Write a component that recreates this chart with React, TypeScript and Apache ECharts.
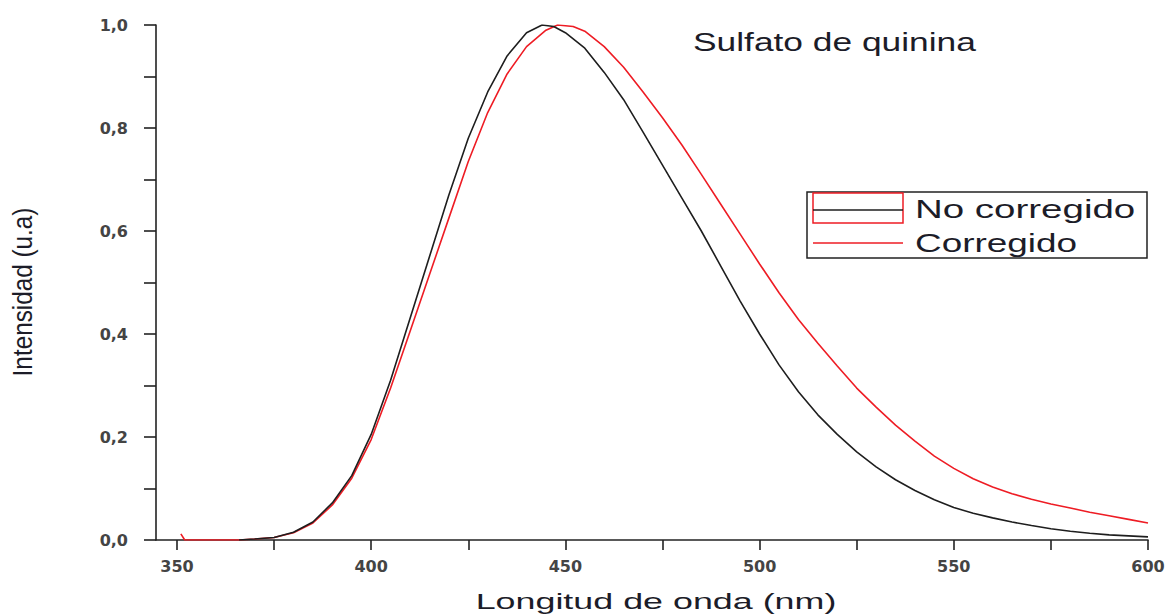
import React, { useEffect, useRef } from "react";
import * as echarts from "echarts";

// Wavelength (nm) and normalized intensity for each curve
const wlNoCorregido = [366, 370, 375, 380, 385, 390, 395, 400, 405, 410, 415, 420, 425, 430, 435, 440, 444, 447, 450, 455, 460, 465, 470, 475, 480, 485, 490, 495, 500, 505, 510, 515, 520, 525, 530, 535, 540, 545, 550, 555, 560, 565, 570, 575, 580, 585, 590, 595, 600];
const noCorregido = [0, 0.002, 0.005, 0.015, 0.035, 0.072, 0.125, 0.205, 0.31, 0.43, 0.55, 0.67, 0.78, 0.87, 0.94, 0.985, 1.0, 0.997, 0.985, 0.955, 0.908, 0.855, 0.792, 0.728, 0.664, 0.6, 0.532, 0.464, 0.4, 0.34, 0.288, 0.243, 0.205, 0.171, 0.142, 0.117, 0.096, 0.078, 0.063, 0.052, 0.043, 0.035, 0.028, 0.022, 0.017, 0.013, 0.01, 0.008, 0.006];

const wlCorregido = [351, 352, 360, 366, 370, 375, 380, 385, 390, 395, 400, 405, 410, 415, 420, 425, 430, 435, 440, 445, 448, 452, 455, 460, 465, 470, 475, 480, 485, 490, 495, 500, 505, 510, 515, 520, 525, 530, 535, 540, 545, 550, 555, 560, 565, 570, 575, 580, 585, 590, 595, 600];
const corregido = [0.012, 0, 0, 0, 0.002, 0.005, 0.014, 0.033, 0.068, 0.12, 0.195, 0.295, 0.405, 0.515, 0.625, 0.735, 0.83, 0.905, 0.958, 0.99, 1.0, 0.997, 0.988, 0.958, 0.918, 0.87, 0.82, 0.767, 0.71, 0.652, 0.594, 0.536, 0.48, 0.428, 0.382, 0.338, 0.295, 0.258, 0.223, 0.192, 0.163, 0.139, 0.119, 0.103, 0.09, 0.079, 0.07, 0.062, 0.054, 0.047, 0.04, 0.033];

const xLabelValues = [350, 400, 450, 500, 550, 600];
const xTickValues = [350, 375, 400, 425, 450, 475, 500, 525, 550, 575, 600];

const seriesNames = ["No corregido", "Corregido"];
const titleText = "Sulfato de quinina";
const xName = "Longitud de onda (nm)";
const yName = "Intensidad (u.a)";

const BLACK = "#1e1e1e";
const RED = "#ee1c24";
const TXT = "#1c1c28";

export default function App() {
  const ref = useRef<HTMLDivElement>(null);

  useEffect(() => {
    if (!ref.current) return;
    const chart = echarts.init(ref.current, null, { renderer: "svg" });

    const labelStyle = {
      fontFamily: "DejaVu Sans",
      fontWeight: "bold" as const,
      fontSize: 16,
      color: "#444",
    };

    chart.setOption({
      animation: false,
      backgroundColor: "#fff",
      grid: { left: 156, right: 28, top: 25, bottom: 74 },
      xAxis: {
        type: "value",
        min: 344.6,
        max: 600,
        axisLine: { show: true, onZero: false, lineStyle: { color: "#222", width: 1.6 } },
        axisTick: {
          show: true,
          inside: false,
          length: 10,
          customValues: xTickValues,
          lineStyle: { color: "#222", width: 1.6 },
        },
        axisLabel: {
          ...labelStyle,
          margin: 18,
          customValues: xLabelValues,
          formatter: (v: number) => String(v),
        },
        splitLine: { show: false },
      },
      yAxis: {
        type: "value",
        min: 0,
        max: 1,
        interval: 0.2,
        axisLine: { show: true, onZero: false, lineStyle: { color: "#222", width: 1.6 } },
        axisTick: { show: true, inside: false, length: 12, lineStyle: { color: "#222", width: 1.6 } },
        minorTick: { show: true, splitNumber: 2, length: 12, lineStyle: { color: "#222", width: 1.6 } },
        axisLabel: {
          ...labelStyle,
          margin: 28,
          formatter: (v: number) => v.toFixed(1).replace(".", ","),
        },
        splitLine: { show: false },
        minorSplitLine: { show: false },
      },
      series: [
        {
          name: seriesNames[0],
          type: "line",
          symbol: "none",
          showSymbol: false,
          data: wlNoCorregido.map((w, i) => [w, noCorregido[i]]),
          lineStyle: { color: BLACK, width: 1.6 },
          itemStyle: { color: BLACK },
          z: 3,
        },
        {
          name: seriesNames[1],
          type: "line",
          symbol: "none",
          showSymbol: false,
          data: wlCorregido.map((w, i) => [w, corregido[i]]),
          lineStyle: { color: RED, width: 1.6 },
          itemStyle: { color: RED },
          z: 2,
        },
      ],
      graphic: [
        {
          type: "text",
          x: 693,
          y: 42,
          scaleX: 1.36,
          style: {
            text: titleText,
            fontFamily: "Liberation Sans",
            fontSize: 26,
            fill: TXT,
            textAlign: "left",
            textVerticalAlign: "middle",
          },
        },
        {
          type: "text",
          x: 656,
          y: 601,
          scaleX: 1.63,
          style: {
            text: xName,
            fontFamily: "Liberation Sans",
            fontSize: 22,
            fill: TXT,
            textAlign: "center",
            textVerticalAlign: "middle",
          },
        },
        {
          type: "text",
          x: 23,
          y: 292,
          rotation: Math.PI / 2,
          scaleX: 0.9,
          style: {
            text: yName,
            fontFamily: "Liberation Sans",
            fontSize: 27,
            fill: TXT,
            textAlign: "center",
            textVerticalAlign: "middle",
          },
        },
        {
          type: "rect",
          shape: { x: 807, y: 192, width: 340, height: 66 },
          style: { fill: "#fff", stroke: "#222", lineWidth: 1.5 },
          z: 10,
        },
        {
          type: "rect",
          shape: { x: 813, y: 193, width: 90, height: 30 },
          style: { fill: "none", stroke: RED, lineWidth: 1.5 },
          z: 11,
        },
        {
          type: "line",
          shape: { x1: 813, y1: 210, x2: 903, y2: 210 },
          style: { stroke: BLACK, lineWidth: 1.6 },
          z: 11,
        },
        {
          type: "line",
          shape: { x1: 813, y1: 243, x2: 903, y2: 243 },
          style: { stroke: RED, lineWidth: 1.6 },
          z: 11,
        },
        {
          type: "text",
          x: 915,
          y: 209,
          scaleX: 1.48,
          z: 11,
          style: {
            text: seriesNames[0],
            fontFamily: "Liberation Sans",
            fontSize: 26,
            fill: TXT,
            textAlign: "left",
            textVerticalAlign: "middle",
          },
        },
        {
          type: "text",
          x: 915,
          y: 243,
          scaleX: 1.42,
          z: 11,
          style: {
            text: seriesNames[1],
            fontFamily: "Liberation Sans",
            fontSize: 26,
            fill: TXT,
            textAlign: "left",
            textVerticalAlign: "middle",
          },
        },
      ],
    });

    return () => chart.dispose();
  }, []);

  return (
    <div
      ref={ref}
      style={{ position: "fixed", left: 0, top: 0, width: 1176, height: 614, background: "#fff" }}
    />
  );
}
